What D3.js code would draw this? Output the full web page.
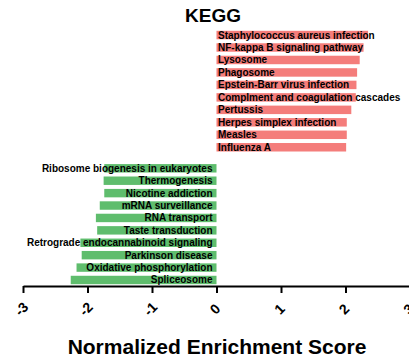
<!DOCTYPE html>
<html>
<head>
<meta charset="utf-8">
<script src="https://cdn.jsdelivr.net/npm/d3@7/dist/d3.min.js"></script>
<style>
  body { margin: 0; background: #fff; }
  svg { display: block; font-family: "Liberation Sans", Arial, sans-serif; }
</style>
</head>
<body>
<svg width="409" height="358"></svg>
<script>
var upTerms = ["Staphylococcus aureus infection", "NF-kappa B signaling pathway", "Lysosome", "Phagosome",
  "Epstein-Barr virus infection", "Complment and coagulation cascades", "Pertussis",
  "Herpes simplex infection", "Measles", "Influenza A"];
var upNES = [2.35, 2.28, 2.22, 2.18, 2.17, 2.16, 2.09, 2.02, 2.02, 2.01];

var downTerms = ["Ribosome biogenesis in eukaryotes", "Thermogenesis", "Nicotine addiction", "mRNA surveillance",
  "RNA transport", "Taste transduction", "Retrograde endocannabinoid signaling", "Parkinson disease",
  "Oxidative phosphorylation", "Spliceosome"];
var downNES = [-1.74, -1.75, -1.74, -1.81, -1.87, -1.85, -2.11, -2.09, -2.17, -2.26];

var tickValues = [-3, -2, -1, 0, 1, 2, 3];

var svg = d3.select("svg");

var x = d3.scaleLinear().domain([-3, 3]).range([23, 410]);
var yUp = d3.scaleBand().domain(upTerms).range([28.8, 153.5]).paddingInner(0.32).paddingOuter(0.16);
var yDown = d3.scaleBand().domain(downTerms).range([162.1, 286.2]).paddingInner(0.32).paddingOuter(0.16);

var up = upTerms.map(function(d, i) { return {term: d, nes: upNES[i]}; });
var down = downTerms.map(function(d, i) { return {term: d, nes: downNES[i]}; });

// bars
svg.append("g").selectAll("rect")
    .data(up)
  .enter().append("rect")
    .attr("x", x(0))
    .attr("y", function(d) { return yUp(d.term); })
    .attr("width", function(d) { return x(d.nes) - x(0); })
    .attr("height", yUp.bandwidth())
    .style("fill", "#f47d7b");

svg.append("g").selectAll("rect")
    .data(down)
  .enter().append("rect")
    .attr("x", function(d) { return x(d.nes); })
    .attr("y", function(d) { return yDown(d.term); })
    .attr("width", function(d) { return x(0) - x(d.nes); })
    .attr("height", yDown.bandwidth())
    .style("fill", "#5fbd6d");

// labels
svg.append("g").selectAll("text")
    .data(up)
  .enter().append("text")
    .attr("x", x(0) + 1.5)
    .attr("y", function(d) { return yUp(d.term) + yUp.bandwidth() / 2; })
    .attr("dy", "0.35em")
    .style("font-size", "10px")
    .style("font-weight", "bold")
    .text(function(d) { return d.term; });

svg.append("g").selectAll("text")
    .data(down)
  .enter().append("text")
    .attr("x", x(0) - 4)
    .attr("y", function(d) { return yDown(d.term) + yDown.bandwidth() / 2; })
    .attr("dy", "0.35em")
    .attr("text-anchor", "end")
    .style("font-size", "10px")
    .style("font-weight", "bold")
    .text(function(d) { return d.term; });

// axis
var axis = svg.append("g")
    .attr("transform", "translate(0,286)")
    .call(d3.axisBottom(x).tickValues(tickValues).tickSize(7).tickSizeOuter(0)
      .tickFormat(function(d) { return String(d); }));
axis.select(".domain").attr("stroke", "#000").attr("stroke-width", 2);
axis.selectAll(".tick line").attr("stroke", "#000").attr("stroke-width", 2);
axis.selectAll(".tick text")
    .attr("y", 0).attr("dy", "0.35em")
    .attr("text-anchor", "middle")
    .attr("transform", "translate(-2,23) rotate(-45)")
    .style("font-size", "14px")
    .style("font-weight", "bold")
    .style("font-family", "'Liberation Sans', Arial, sans-serif")
    .attr("fill", "#000");

// titles
svg.append("text")
    .attr("x", 213)
    .attr("y", 21.7)
    .attr("text-anchor", "middle")
    .style("font-size", "19px")
    .style("font-weight", "bold")
    .text("KEGG");

svg.append("text")
    .attr("x", 217)
    .attr("y", 354)
    .attr("text-anchor", "middle")
    .style("font-size", "21px")
    .style("font-weight", "bold")
    .text("Normalized Enrichment Score");
</script>
</body>
</html>
